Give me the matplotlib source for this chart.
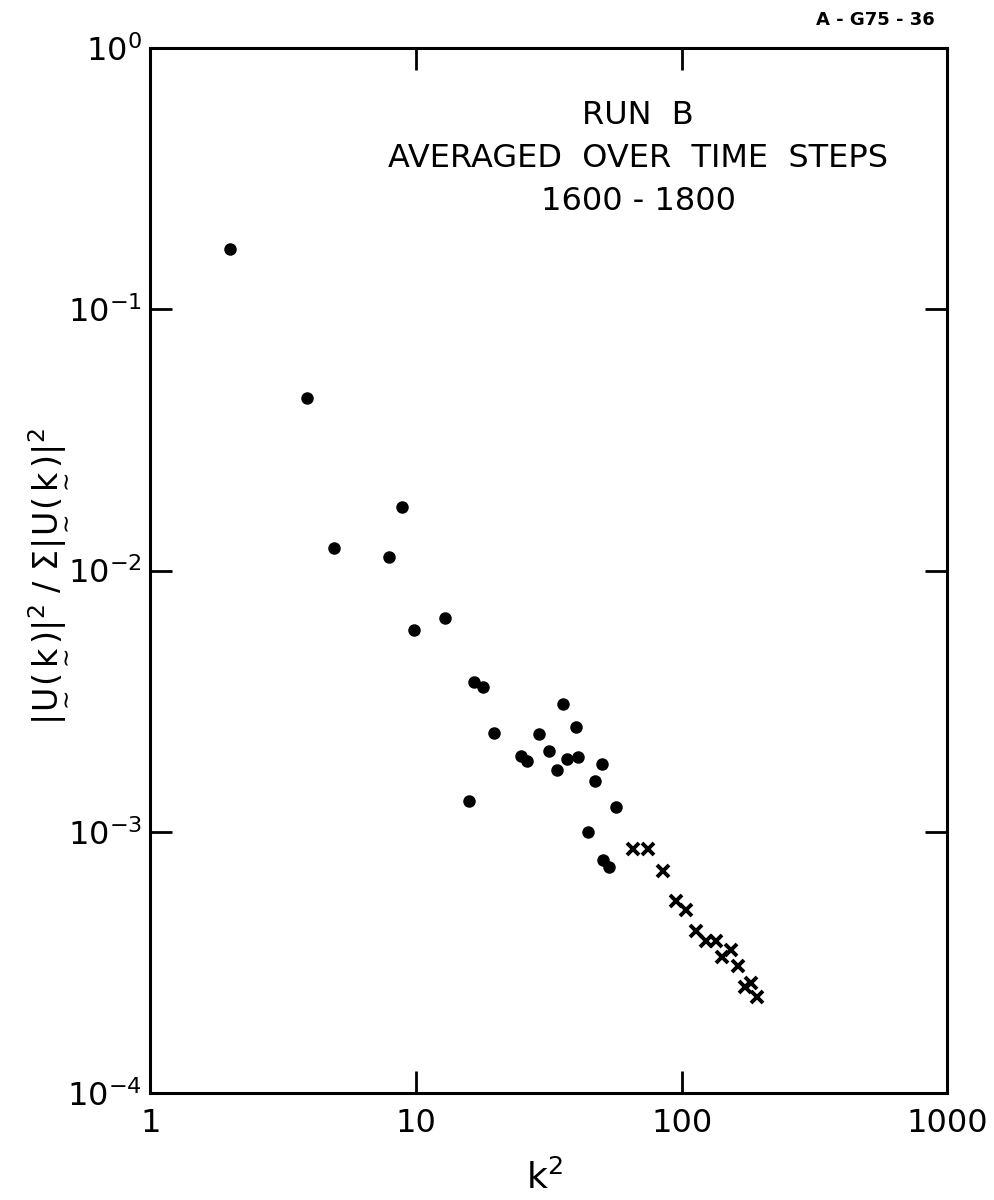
import matplotlib
matplotlib.use("Agg")
import matplotlib.pyplot as plt
from matplotlib.ticker import FixedLocator, FixedFormatter, NullLocator

plt.rcParams['font.family'] = ['DejaVu Sans']
plt.rcParams['mathtext.fontset'] = 'dejavusans'

# filled dots: k^2 and normalized energy
k2_dots = [2.0, 3.9, 4.9, 7.9, 8.85, 9.85, 12.9, 16.6, 17.9, 15.9, 19.7, 24.9,
           26.2, 29.0, 31.7, 33.9, 35.8, 37.0, 40.0, 40.7, 44.5, 47.4, 50.0,
           50.6, 53.3, 56.8]
e_dots = [0.170, 0.0459, 0.01225, 0.01127, 0.01746, 0.00592, 0.00656, 0.00376,
          0.00360, 0.00131, 0.00240, 0.00195, 0.00187, 0.00237, 0.00204,
          0.00172, 0.00310, 0.00190, 0.00253, 0.00193, 0.000996, 0.00157,
          0.00182, 0.000778, 0.000731, 0.00125]

# crosses
k2_cross = [65.7, 74.7, 84.9, 95, 104, 113, 124, 135, 142, 153, 163, 173, 182, 193]
e_cross = [0.000862, 0.000861, 0.000708, 0.000544, 0.000502, 0.000417, 0.000382,
           0.000381, 0.000331, 0.000352, 0.000308, 0.000256, 0.000263, 0.000234]

x_ticks = [1, 10, 100, 1000]
x_ticklabels = ['1', '10', '100', '1000']
y_ticks = [1e-4, 1e-3, 1e-2, 1e-1, 1e0]
y_ticklabels = [r'$10^{-4}$', r'$10^{-3}$', r'$10^{-2}$', r'$10^{-1}$', r'$10^{0}$']

fig = plt.figure(figsize=(9.95, 12), dpi=100)
ax = fig.add_axes([0.151, 0.089, 0.801, 0.871])
ax.set_xscale('log')
ax.set_yscale('log')
ax.set_xlim(1, 1000)
ax.set_ylim(1e-4, 1)

ax.plot(k2_dots, e_dots, 'o', color='black', ms=9, mew=0)
ax.plot(k2_cross, e_cross, 'x', color='black', ms=8, mew=2.8)

for s in ax.spines.values():
    s.set_linewidth(2.2)

ax.xaxis.set_major_locator(FixedLocator(x_ticks))
ax.xaxis.set_major_formatter(FixedFormatter(x_ticklabels))
ax.yaxis.set_major_locator(FixedLocator(y_ticks))
ax.yaxis.set_major_formatter(FixedFormatter(y_ticklabels))
ax.xaxis.set_minor_locator(NullLocator())
ax.yaxis.set_minor_locator(NullLocator())
ax.tick_params(which='major', direction='in', length=16, width=2,
               top=True, right=True, labelsize=23)
ax.tick_params(axis='x', pad=11)
ax.tick_params(axis='y', pad=6)

ax.set_xlabel(r'$\mathrm{k}^{2}$', fontsize=26)
ax.xaxis.set_label_coords(0.495, -0.064)
ax.set_ylabel(r'$\mathrm{|\underset{\sim}{U}(\underset{\sim}{k})|^{2}\ /\ \Sigma|\underset{\sim}{U}(\underset{\sim}{k})|^{2}}$',
              fontsize=24)
ax.yaxis.set_label_coords(-0.103, 0.494)

ax.text(0.612, 0.950, 'RUN  B\nAVERAGED  OVER  TIME  STEPS\n1600 - 1800',
        transform=ax.transAxes, ha='center', va='top', fontsize=23,
        linespacing=1.5)

fig.text(0.880, 0.983, 'A - G75 - 36', ha='center', va='center', fontsize=13,
         fontweight='bold')

fig.savefig('out.png', dpi=100)
